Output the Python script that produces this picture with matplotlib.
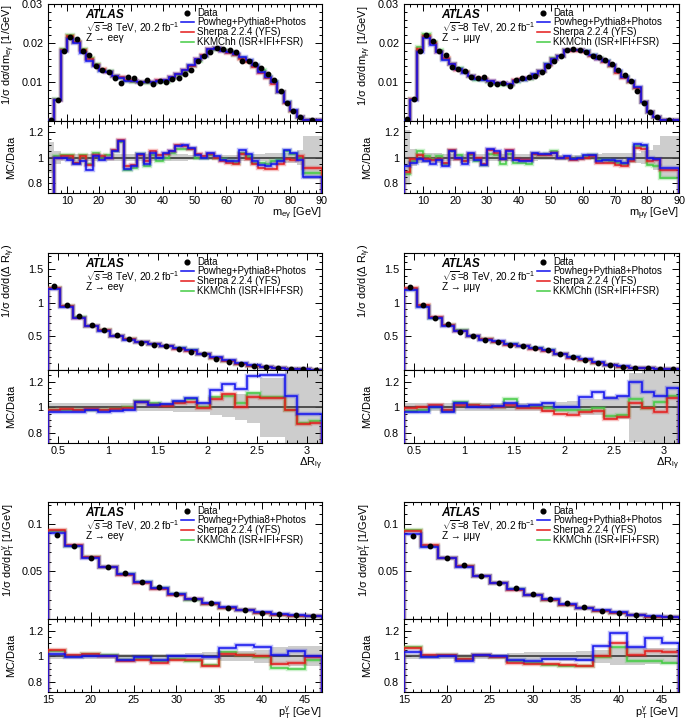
import numpy as np
import matplotlib
matplotlib.use('Agg')
import matplotlib.pyplot as plt
from matplotlib.lines import Line2D
from matplotlib.ticker import MultipleLocator, FixedLocator

plt.rcParams['font.family'] = ['Liberation Sans', 'DejaVu Sans']
plt.rcParams['mathtext.fontset'] = 'custom'
plt.rcParams['mathtext.rm'] = 'Liberation Sans'
plt.rcParams['mathtext.it'] = 'Liberation Sans:italic'
plt.rcParams['mathtext.bf'] = 'Liberation Sans:bold'

# ---------------- data ----------------
m_edges = np.append(np.arange(4, 85, 2), 90)
dr_edges = np.round(np.arange(0.4, 3.151, 0.125), 4)
pt_edges = np.arange(15, 48, 2)

ee_m_data = [0.0003, 0.0055, 0.018, 0.0215, 0.021, 0.018, 0.017, 0.014, 0.0132, 0.0126,
             0.011, 0.0098, 0.0114, 0.011, 0.0098, 0.0104, 0.0095, 0.0103, 0.0101, 0.0107,
             0.011, 0.012, 0.0132, 0.0155, 0.0167, 0.0178, 0.0186, 0.0184, 0.0182, 0.0177,
             0.0155, 0.0153, 0.0147, 0.0135, 0.012, 0.0104, 0.0077, 0.0047, 0.0026, 0.0010, 0.0002]
ee_m_powheg = [0.60, 1.00, 1.00, 0.98, 0.95, 0.97, 0.90, 1.01, 0.98, 1.00,
               1.05, 1.13, 0.91, 0.93, 1.03, 0.95, 1.04, 1.00, 1.04, 1.05,
               1.09, 1.10, 1.08, 1.02, 1.00, 1.04, 1.01, 0.98, 0.97, 0.97,
               1.06, 1.03, 0.97, 0.94, 0.93, 0.95, 0.97, 1.06, 1.04, 0.98, 0.85]
ee_m_sherpa = [0.60, 1.00, 1.01, 1.01, 0.96, 1.01, 0.94, 1.02, 1.01, 1.00,
               1.06, 1.14, 0.93, 0.94, 1.02, 0.97, 1.05, 1.02, 1.03, 1.05,
               1.10, 1.09, 1.07, 1.03, 1.01, 1.03, 1.00, 0.97, 0.96, 0.95,
               1.03, 0.99, 0.95, 0.92, 0.91, 0.91, 0.95, 0.99, 0.98, 1.01, 0.92]
ee_m_kkmc = [0.60, 1.01, 1.02, 1.02, 0.96, 1.02, 0.95, 1.04, 1.00, 1.02,
             1.05, 1.12, 0.90, 0.92, 1.03, 0.93, 1.02, 0.97, 1.00, 1.04,
             1.07, 1.07, 1.07, 1.00, 1.00, 1.02, 1.00, 0.99, 0.97, 0.96,
             1.04, 1.01, 0.96, 0.96, 0.95, 0.97, 0.98, 1.05, 1.03, 1.00, 0.88]
ee_m_unc = [0.12, 0.05, 0.03, 0.03, 0.03, 0.03, 0.03, 0.03, 0.03, 0.03,
            0.03, 0.03, 0.03, 0.03, 0.03, 0.03, 0.03, 0.03, 0.03, 0.025,
            0.025, 0.025, 0.02, 0.02, 0.02, 0.02, 0.02, 0.02, 0.02, 0.02,
            0.03, 0.03, 0.03, 0.03, 0.04, 0.04, 0.04, 0.04, 0.04, 0.06, 0.17]

mm_m_data = [0.0004, 0.0057, 0.018, 0.022, 0.0205, 0.018, 0.0168, 0.0138, 0.0133, 0.0129,
             0.0112, 0.0109, 0.0113, 0.0096, 0.0094, 0.0098, 0.0090, 0.0105, 0.0109, 0.0113,
             0.0115, 0.0125, 0.0141, 0.0154, 0.0167, 0.0181, 0.0184, 0.0183, 0.0177, 0.0166,
             0.0165, 0.0157, 0.0146, 0.0131, 0.0118, 0.0103, 0.0078, 0.0045, 0.0024, 0.0011, 0.0002]
mm_m_powheg = [0.93, 0.96, 0.99, 0.97, 0.95, 0.98, 0.93, 1.05, 1.00, 0.95,
               1.04, 0.98, 0.94, 1.07, 1.05, 0.99, 1.05, 0.98, 0.97, 0.97,
               1.04, 1.03, 1.03, 1.04, 1.00, 1.01, 0.99, 1.00, 1.02, 1.02,
               0.97, 0.98, 0.98, 0.97, 0.96, 0.99, 1.11, 1.10, 1.00, 0.99, 0.92]
mm_m_sherpa = [0.89, 0.99, 1.02, 0.99, 0.98, 0.99, 0.96, 1.06, 0.99, 0.97,
               1.03, 1.00, 0.95, 1.06, 1.04, 0.99, 1.06, 0.99, 0.98, 0.98,
               1.03, 1.02, 1.02, 1.04, 1.00, 1.00, 0.98, 0.99, 1.00, 1.01,
               0.96, 0.96, 0.96, 0.94, 0.93, 0.97, 1.08, 1.07, 0.97, 0.98, 0.90]
mm_m_kkmc = [0.87, 0.97, 1.05, 1.01, 0.99, 1.01, 0.95, 1.05, 1.02, 0.97,
             1.02, 0.97, 0.94, 1.03, 1.02, 0.95, 1.03, 0.96, 0.96, 0.95,
             1.03, 1.02, 1.03, 1.05, 1.00, 1.00, 0.99, 1.00, 1.01, 1.02,
             0.98, 0.98, 0.97, 0.96, 0.95, 0.98, 1.09, 1.09, 0.94, 0.93, 0.84]
mm_m_unc = [0.22, 0.07, 0.04, 0.04, 0.04, 0.04, 0.03, 0.03, 0.03, 0.03,
            0.03, 0.03, 0.03, 0.03, 0.03, 0.03, 0.03, 0.03, 0.03, 0.03,
            0.03, 0.02, 0.02, 0.02, 0.02, 0.02, 0.02, 0.02, 0.02, 0.02,
            0.03, 0.04, 0.04, 0.04, 0.04, 0.04, 0.04, 0.05, 0.06, 0.10, 0.17]

ee_dr_data = [1.25, 0.97, 0.80, 0.67, 0.60, 0.52, 0.46, 0.40, 0.375, 0.35, 0.31,
              0.275, 0.235, 0.17, 0.12, 0.085, 0.06, 0.04, 0.025, 0.016, 0.01, 0.006]
ee_dr_powheg = [0.96, 0.96, 0.965, 0.975, 0.965, 0.97, 0.98, 1.04, 1.02, 1.025, 1.05,
                1.07, 1.03, 1.13, 1.18, 1.14, 1.24, 1.25, 1.25, 1.09, 0.95, 0.95]
ee_dr_sherpa = [0.98, 0.985, 0.975, 0.985, 0.98, 0.985, 0.995, 1.04, 1.02, 1.01, 1.03,
                1.04, 0.99, 1.06, 1.10, 1.00, 1.08, 1.07, 1.07, 0.98, 0.87, 0.88]
ee_dr_kkmc = [0.975, 0.98, 0.98, 0.98, 0.98, 0.985, 1.005, 1.05, 1.035, 1.02, 1.04,
              1.06, 1.00, 1.08, 1.09, 1.03, 1.11, 1.08, 1.08, 0.98, 0.88, 0.89]
ee_dr_unc = [0.03, 0.03, 0.03, 0.03, 0.03, 0.03, 0.03, 0.03, 0.03, 0.03, 0.035,
             0.04, 0.04, 0.06, 0.08, 0.10, 0.12, 0.23, 0.23, 0.30, 0.30, 0.30]

mm_dr_data = [1.235, 0.97, 0.77, 0.685, 0.57, 0.50, 0.45, 0.42, 0.37, 0.355, 0.32,
              0.295, 0.245, 0.195, 0.15, 0.10, 0.075, 0.05, 0.03, 0.025, 0.015, 0.01]
mm_dr_powheg = [0.96, 0.96, 1.00, 0.96, 1.03, 1.00, 1.00, 1.01, 1.03, 1.01, 1.02,
                1.03, 1.00, 1.00, 1.08, 1.12, 1.07, 1.09, 1.20, 1.12, 1.09, 1.15]
mm_dr_sherpa = [0.99, 1.00, 1.02, 0.98, 1.02, 1.02, 1.01, 1.00, 1.02, 0.99, 0.99,
                0.97, 0.95, 0.94, 0.96, 0.97, 0.91, 0.92, 1.03, 0.995, 0.96, 1.07]
mm_dr_kkmc = [0.97, 0.98, 1.00, 0.97, 1.04, 1.02, 1.01, 1.00, 1.06, 1.00, 1.00,
              0.99, 0.98, 0.98, 0.98, 0.99, 0.93, 0.94, 1.06, 0.99, 1.04, 1.09]
mm_dr_unc = [0.03, 0.03, 0.03, 0.03, 0.03, 0.03, 0.03, 0.03, 0.03, 0.03, 0.03,
             0.04, 0.04, 0.05, 0.06, 0.06, 0.09, 0.09, 0.27, 0.30, 0.30, 0.30]

ee_pt_data = [0.0888, 0.0772, 0.0643, 0.0545, 0.0486, 0.0394, 0.0335, 0.0265,
              0.0213, 0.0171, 0.0115, 0.009, 0.0068, 0.005, 0.0038, 0.0028]
ee_pt_powheg = [1.02, 0.99, 1.00, 1.00, 0.97, 0.99, 0.97, 1.00, 1.00, 0.99, 1.06, 1.09, 1.07, 1.01, 1.04, 1.00]
ee_pt_sherpa = [1.05, 1.01, 1.02, 1.00, 0.96, 0.97, 0.95, 0.97, 0.97, 0.92, 1.02, 1.01, 1.00, 0.94, 0.95, 0.99]
ee_pt_kkmc = [1.04, 1.00, 1.02, 1.01, 0.97, 0.98, 0.96, 0.98, 0.96, 0.93, 1.03, 1.01, 0.99, 0.91, 0.90, 0.97]
ee_pt_unc = [0.02, 0.02, 0.02, 0.02, 0.02, 0.02, 0.02, 0.02, 0.025, 0.03, 0.04, 0.04, 0.05, 0.07, 0.08, 0.08]

mm_pt_data = [0.0871, 0.0766, 0.064, 0.057, 0.0451, 0.0378, 0.0325, 0.0266,
              0.0213, 0.0163, 0.0122, 0.0085, 0.006, 0.004, 0.0025, 0.0018]
mm_pt_powheg = [1.03, 0.99, 1.00, 0.96, 1.01, 1.00, 0.97, 0.96, 0.98, 0.98, 0.97, 1.08, 1.18, 1.07, 1.14, 1.10]
mm_pt_sherpa = [1.06, 1.01, 1.01, 0.98, 1.01, 0.99, 0.95, 0.94, 0.94, 0.93, 0.92, 1.00, 1.10, 1.01, 1.04, 1.03]
mm_pt_kkmc = [1.07, 1.00, 1.01, 0.98, 1.01, 0.99, 0.96, 0.95, 0.93, 0.92, 0.92, 0.99, 1.07, 0.96, 0.96, 0.95]
mm_pt_unc = [0.02, 0.02, 0.02, 0.02, 0.02, 0.02, 0.025, 0.03, 0.03, 0.035, 0.04, 0.05, 0.07, 0.07, 0.06, 0.06]

legend_labels = ["Data", "Powheg+Pythia8+Photos", "Sherpa 2.2.4 (YFS)", "KKMChh (ISR+IFI+FSR)"]
channels = ["Z → eeγ", "Z → μμγ"]

# ---------------- style ----------------
C_BLUE = '#1010ee'
C_RED = '#e41a1a'
C_GREEN = '#44cc44'
W, H = 685, 720
fig = plt.figure(figsize=(W / 100, H / 100), dpi=100)

def fx(px):
    return px / W

def fy(py):
    return 1 - py / H

cols = [(48, 322), (404, 679)]
rows = [(4, 121, 193), (253, 370, 443), (502, 619, 692)]

TICK_FS = 7.8
LAB_FS = 7.9


def style(ax, xmaj, xmin, ymaj_list, ymin):
    ax.xaxis.set_major_locator(MultipleLocator(xmaj))
    ax.xaxis.set_minor_locator(MultipleLocator(xmin))
    ax.yaxis.set_major_locator(FixedLocator(ymaj_list))
    ax.yaxis.set_minor_locator(MultipleLocator(ymin))
    ax.tick_params(which='both', direction='in', top=True, right=True,
                   labelsize=TICK_FS, width=0.7, colors='black')
    ax.tick_params(which='major', length=5, pad=2.0)
    ax.tick_params(which='minor', length=2.5)
    ax.tick_params(axis='y', pad=3.5)
    for s in ax.spines.values():
        s.set_linewidth(0.8)


def mc_line(ax, vals, edges, color, zo):
    ax.stairs(vals, edges, color=color, lw=3.2, alpha=0.28, zorder=zo)
    ax.stairs(vals, edges, color=color, lw=1.1, zorder=zo + 0.1)


def yfmt(v):
    return ('%g' % v)


def panel(ci, ri, edges, data, r_b, r_r, r_g, unc, ylim, yticks, yminor,
          xmaj, xmin, ylabel, xlabel, chan, ylab_top):
    x0, x1 = cols[ci]
    t, m, b = rows[ri]
    axm = fig.add_axes([fx(x0), fy(m), (x1 - x0) / W, (m - t) / H])
    axr = fig.add_axes([fx(x0), fy(b), (x1 - x0) / W, (b - m) / H])
    edges = np.asarray(edges, float)
    data = np.asarray(data, float)
    centers = 0.5 * (edges[:-1] + edges[1:])

    # main panel
    mc_line(axm, data * np.asarray(r_g), edges, C_GREEN, 3)
    mc_line(axm, data * np.asarray(r_r), edges, C_RED, 4)
    mc_line(axm, data * np.asarray(r_b), edges, C_BLUE, 5)
    axm.plot(centers, data, 'o', color='black', ms=3.2, zorder=6, clip_on=True)
    axm.set_xlim(edges[0], edges[-1])
    axm.set_ylim(*ylim)
    style(axm, xmaj, xmin, yticks, yminor)
    axm.set_yticklabels([yfmt(v) for v in yticks])
    axm.tick_params(labelbottom=False)

    # ratio panel
    unc = np.asarray(unc)
    axr.stairs(1 + unc, edges, baseline=1 - unc, fill=True, color='#cdcdcd', lw=0, zorder=1)
    axr.axhline(1.0, color='#444444', lw=1.3, zorder=2)
    mc_line(axr, r_g, edges, C_GREEN, 3)
    mc_line(axr, r_r, edges, C_RED, 4)
    mc_line(axr, r_b, edges, C_BLUE, 5)
    axr.set_xlim(edges[0], edges[-1])
    axr.set_ylim(0.72, 1.29)
    style(axr, xmaj, xmin, [0.8, 1.0, 1.2], 0.05)
    axr.set_yticklabels(['0.8', '1', '1.2'])
    xt = axr.get_xticks()
    axr.set_xticks([v for v in xt if edges[0] - 1e-9 <= v <= edges[-1] + 1e-9])
    axr.set_xticklabels([yfmt(round(v, 3)) for v in axr.get_xticks()])

    # axis titles
    fig.text(fx(x0 - 39), fy(ylab_top), ylabel, rotation=90, ha='center', va='top',
             fontsize=LAB_FS)
    fig.text(fx(x0 - 37), fy(0.5 * (m + b)), "MC/Data", rotation=90, ha='center',
             va='center', fontsize=LAB_FS)
    fig.text(fx(x1), fy(b + 21), xlabel, ha='right', va='center', fontsize=LAB_FS)

    # ATLAS label block
    fig.text(fx(x0 + 37.5), fy(t + 11), "ATLAS", fontsize=8.6, fontweight='bold',
             fontstyle='italic', ha='left', va='center')
    fig.text(fx(x0 + 37.5), fy(t + 23.3), r"$\sqrt{s}$=8 TeV, 20.2 fb$^{-1}$",
             fontsize=7.2, ha='left', va='center')
    fig.text(fx(x0 + 37.5), fy(t + 34.3), chan, fontsize=7.2, ha='left', va='center')

    # legend
    ly = [t + 8.7 + 9.65 * i for i in range(4)]
    fig.add_artist(Line2D([fx(x0 + 139)], [fy(ly[0])], marker='o', ms=3.4,
                          color='black', lw=0, transform=fig.transFigure))
    for i, col in enumerate([C_BLUE, C_RED, C_GREEN]):
        fig.add_artist(Line2D([fx(x0 + 133), fx(x0 + 146)], [fy(ly[i + 1])] * 2,
                              color=col, lw=1.1, transform=fig.transFigure))
    for i, lab in enumerate(legend_labels):
        fig.text(fx(x0 + 149), fy(ly[i]), lab, fontsize=7.0, ha='left', va='center')


panel(0, 0, m_edges, ee_m_data, ee_m_powheg, ee_m_sherpa, ee_m_kkmc, ee_m_unc,
      (0, 0.03), [0.01, 0.02, 0.03], 0.002, 10, 2,
      "1/σ dσ/dm$_{\\mathregular{eγ}}$ [1/GeV]", "m$_{\\mathregular{eγ}}$ [GeV]", channels[0], 5)
panel(1, 0, m_edges, mm_m_data, mm_m_powheg, mm_m_sherpa, mm_m_kkmc, mm_m_unc,
      (0, 0.03), [0.01, 0.02, 0.03], 0.002, 10, 2,
      "1/σ dσ/dm$_{\\mathregular{μγ}}$ [1/GeV]", "m$_{\\mathregular{μγ}}$ [GeV]", channels[1], 5)
panel(0, 1, dr_edges, ee_dr_data, ee_dr_powheg, ee_dr_sherpa, ee_dr_kkmc, ee_dr_unc,
      (0, 1.74), [0.5, 1.0, 1.5], 0.1, 0.5, 0.1,
      "1/σ dσ/d(Δ R$_{\\mathregular{lγ}}$)", "ΔR$_{\\mathregular{lγ}}$", channels[0], 244)
panel(1, 1, dr_edges, mm_dr_data, mm_dr_powheg, mm_dr_sherpa, mm_dr_kkmc, mm_dr_unc,
      (0, 1.74), [0.5, 1.0, 1.5], 0.1, 0.5, 0.1,
      "1/σ dσ/d(Δ R$_{\\mathregular{lγ}}$)", "ΔR$_{\\mathregular{lγ}}$", channels[1], 244)
panel(0, 2, pt_edges, ee_pt_data, ee_pt_powheg, ee_pt_sherpa, ee_pt_kkmc, ee_pt_unc,
      (0, 0.123), [0.05, 0.1], 0.01, 5, 1,
      "1/σ dσ/dp$_{\\mathregular{T}}^{\\mathregular{γ}}$ [1/GeV]",
      "p$_{\\mathregular{T}}^{\\mathregular{γ}}$ [GeV]", channels[0], 503)
panel(1, 2, pt_edges, mm_pt_data, mm_pt_powheg, mm_pt_sherpa, mm_pt_kkmc, mm_pt_unc,
      (0, 0.123), [0.05, 0.1], 0.01, 5, 1,
      "1/σ dσ/dp$_{\\mathregular{T}}^{\\mathregular{γ}}$ [1/GeV]",
      "p$_{\\mathregular{T}}^{\\mathregular{γ}}$ [GeV]", channels[1], 503)

fig.savefig('out.png', dpi=100, facecolor='white')
